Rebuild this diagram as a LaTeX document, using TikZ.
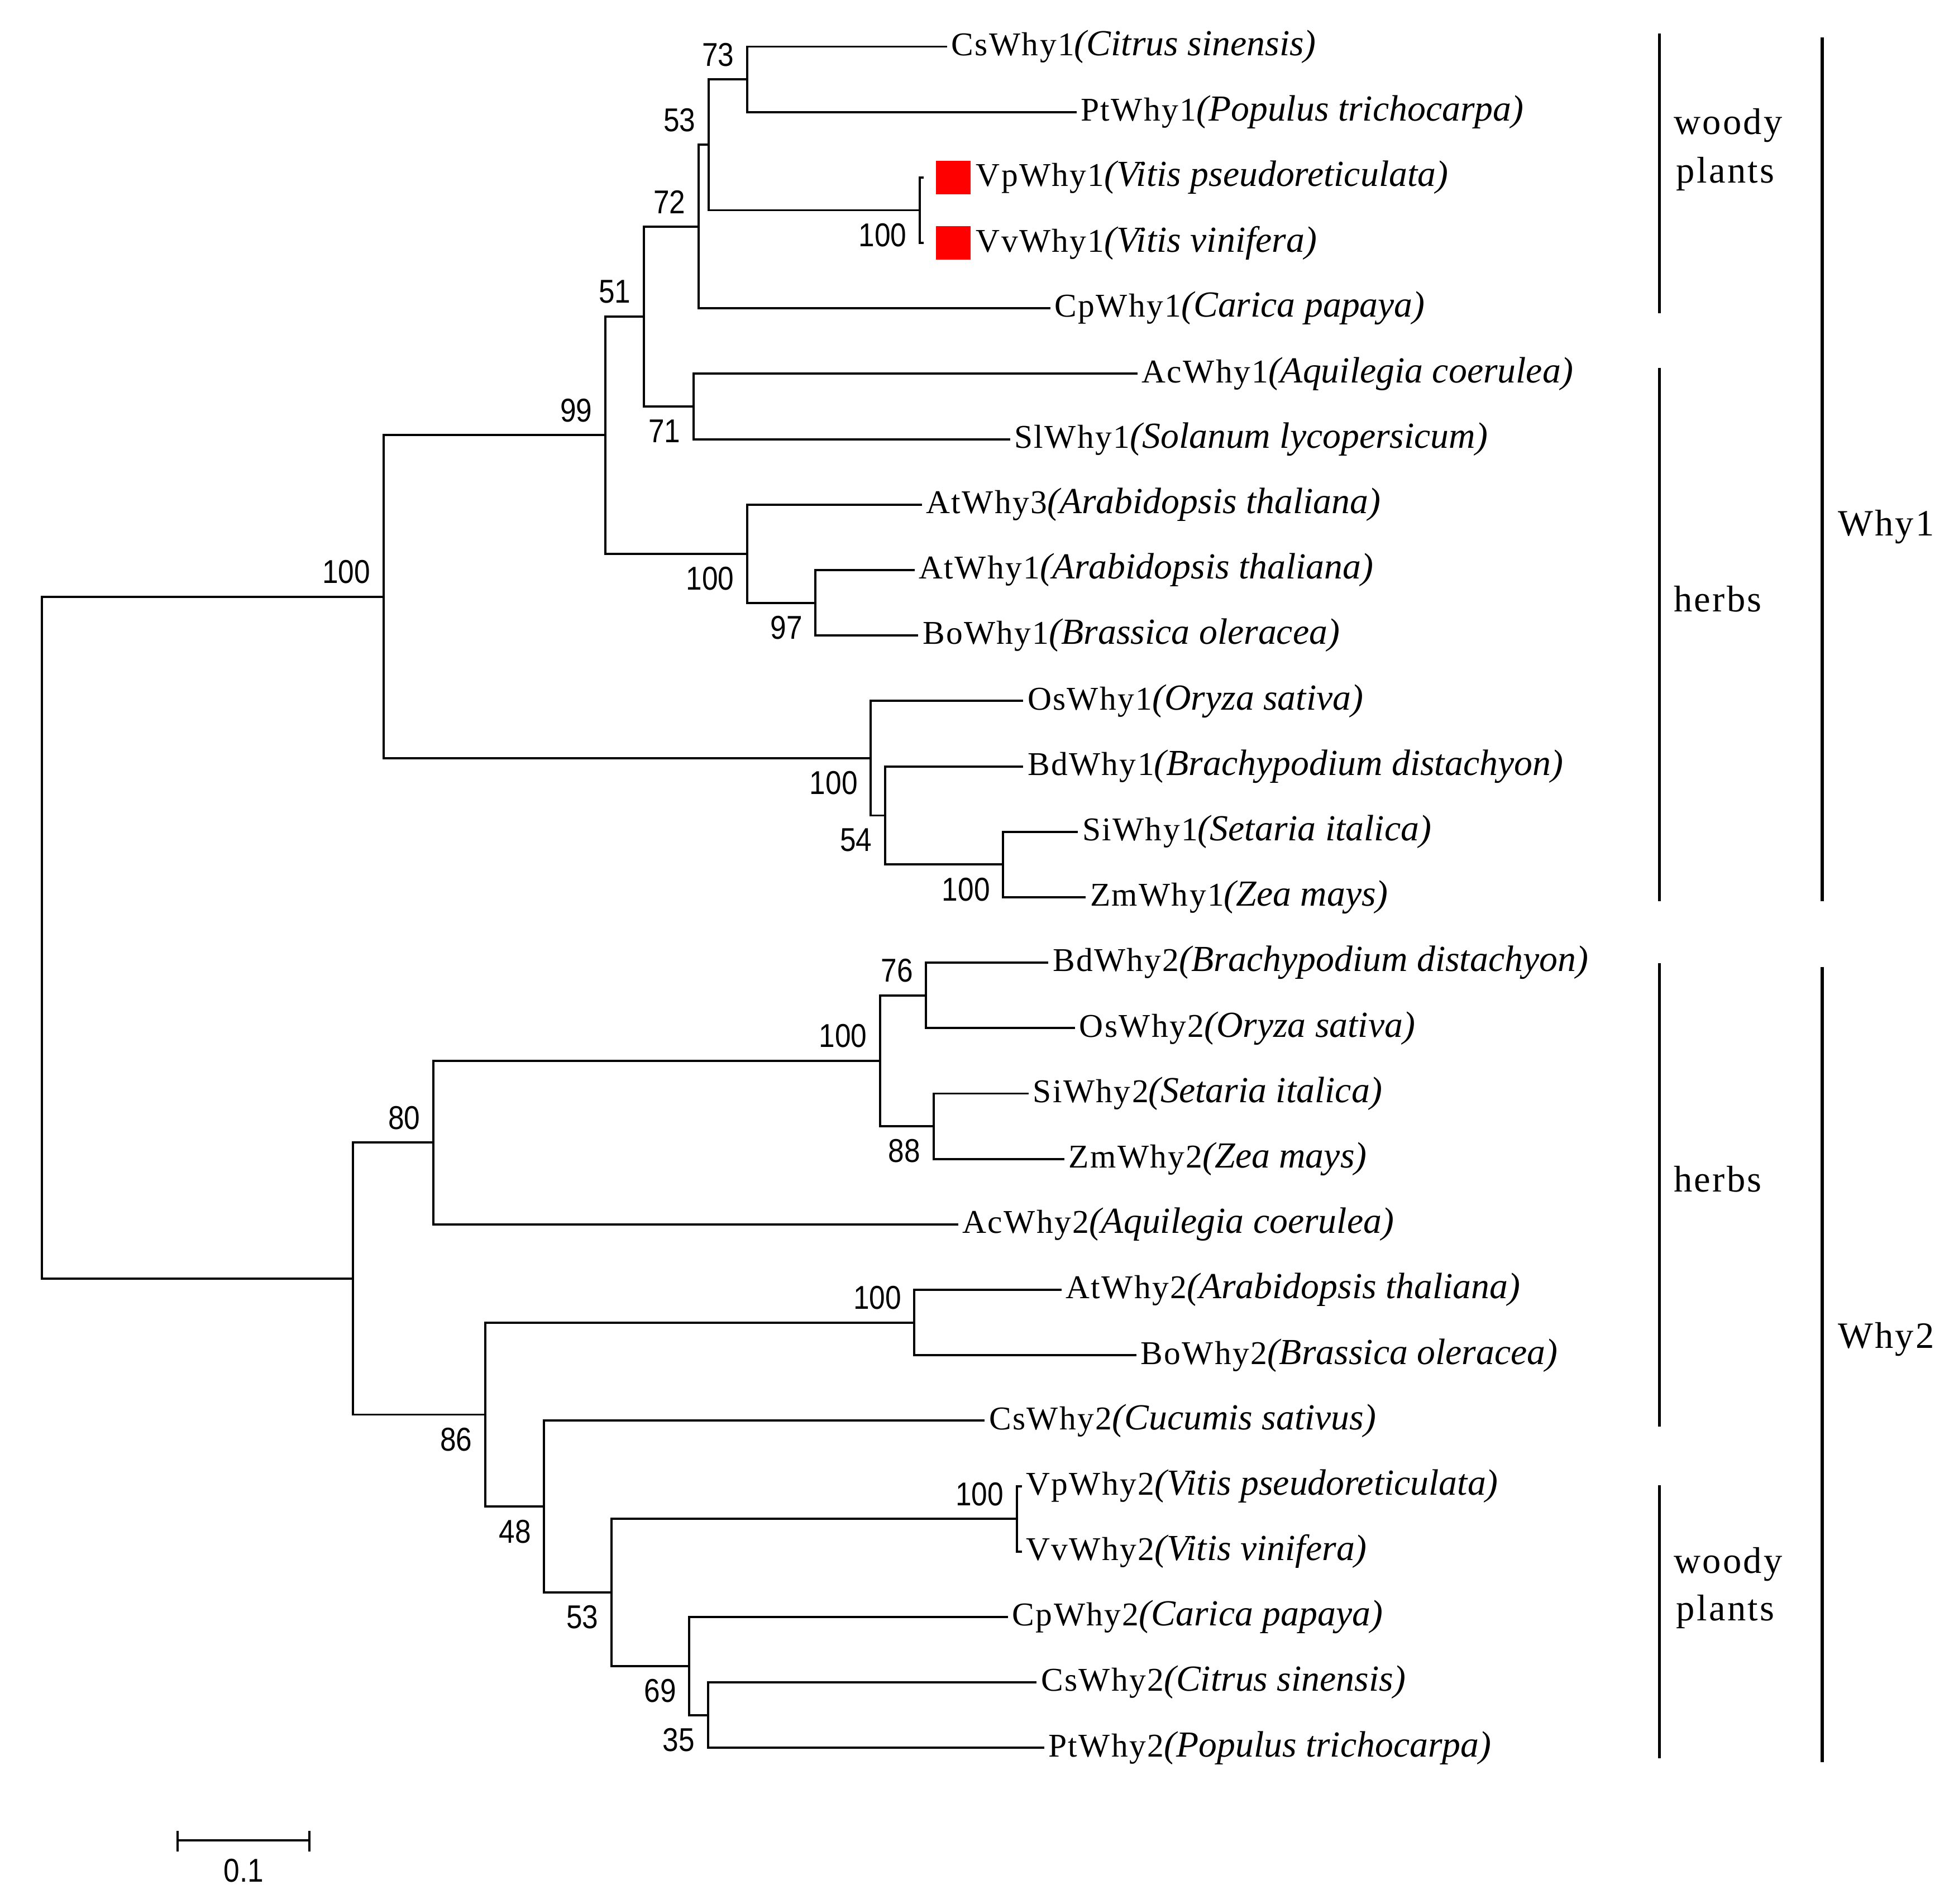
\documentclass[tikz,border=0pt]{standalone}
\usepackage{fontspec}
\usetikzlibrary{positioning}
\setmainfont{Liberation Serif}
\newfontfamily\genefont[LetterSpace=4]{Liberation Serif}
\newfontfamily\bsfont[FakeStretch=0.87]{Liberation Sans}
\newfontfamily\grpfont[LetterSpace=5]{Liberation Serif}
\newcommand{\gn}[1]{{\genefont\fontsize{7.6}{8}\selectfont #1}}
\newcommand{\species}[1]{{\fontsize{8.4}{10}\selectfont\itshape(#1)}}

\begin{document}
\begin{tikzpicture}[x=0.01cm,y=-0.01cm]
      \tikzstyle{branch}=[line width=0.5pt]
      \tikzstyle{leaf}=[anchor=west,inner sep=0.8pt]
      \tikzstyle{bsa}=[anchor=south east,inner sep=2.8pt,font=\bsfont\fontsize{7.55}{9}\selectfont]
      \tikzstyle{bsb}=[anchor=north east,inner sep=2.8pt,font=\bsfont\fontsize{7.55}{9}\selectfont]
      \tikzstyle{grp}=[anchor=base west,inner sep=0pt,font=\grpfont\fontsize{8.5}{10}\selectfont]
      \tikzstyle{bar}=[line width=0.7pt]
      \tikzstyle{redbox}=[fill=red,inner sep=0pt,minimum width=0.28cm,minimum height=0.27cm]
      \useasboundingbox (0,0) rectangle (1568,1532);
      % leaf tips
      \foreach \x [count=\i from 0] in {762,866,743,743,845,915,812.6,741.6,735.8,738.7,
          823.2,823.2,867.2,873.5,843.4,864.9,827.6,856.3,770.8,853.9,914.1,792.3,
          822,822,811,834,840}
        {\coordinate (t\i) at (\x,{37.5+52.65*\i});}
      % inner nodes
      \coordinate (n73) at (601,63.85);
      \coordinate (nVp1) at (740,169.15);
      \coordinate (n53) at (570,116.5);
      \coordinate (n72) at (562,182.3);
      \coordinate (n71) at (558,327.1);
      \coordinate (n51) at (518,254.7);
      \coordinate (n97) at (656,485.05);
      \coordinate (nAt) at (601,445.6);
      \coordinate (n99) at (487,350.15);
      \coordinate (nSZ1) at (807,695.6);
      \coordinate (n54) at (712,656.15);
      \coordinate (nG1) at (700.5,610.1);
      \coordinate (nTop) at (308.5,480.1);
      \coordinate (n76) at (745,800.95);
      \coordinate (n88) at (751,906.2);
      \coordinate (nG2) at (708,853.6);
      \coordinate (n80) at (348.5,919.4);
      \coordinate (nAB2) at (735.6,1064.2);
      \coordinate (nVp2) at (818,1222.15);
      \coordinate (n35) at (569.5,1380.1);
      \coordinate (n69) at (554.6,1340.6);
      \coordinate (n53b) at (492,1281.4);
      \coordinate (n48) at (437.7,1212.3);
      \coordinate (n86) at (390.4,1138.25);
      \coordinate (nW2) at (284,1028.8);
      \coordinate (root) at (33.5,754.45);
      \foreach \p/\c in {n73/t0,n73/t1,nVp1/t2,nVp1/t3,n53/n73,n53/nVp1,n72/n53,n72/t4,
          n71/t5,n71/t6,n51/n72,n51/n71,n97/t8,n97/t9,nAt/t7,nAt/n97,n99/n51,n99/nAt,
          nSZ1/t12,nSZ1/t13,n54/t11,n54/nSZ1,nG1/t10,nG1/n54,nTop/n99,nTop/nG1,
          n76/t14,n76/t15,n88/t16,n88/t17,nG2/n76,nG2/n88,n80/nG2,n80/t18,
          nAB2/t19,nAB2/t20,nVp2/t22,nVp2/t23,n35/t25,n35/t26,n69/t24,n69/n35,
          n53b/nVp2,n53b/n69,n48/t21,n48/n53b,n86/nAB2,n86/n48,nW2/n80,nW2/n86,
          root/nTop,root/nW2}
        {\draw[branch] (\p) |- (\c);}
      % bootstrap values
      \foreach \n/\v in {n73/73,n53/53,n72/72,n51/51,n99/99,nTop/100,n76/76,nG2/100,
          n80/80,nAB2/100,nVp2/100}
        {\node[bsa] (b\n) at (\n) {\v};}
      \foreach \n/\v in {nVp1/100,n71/71,nAt/100,n97/97,nG1/100,n54/54,nSZ1/100,n88/88,
          n86/86,n48/48,n53b/53,n69/69,n35/35}
        {\node[bsb] (b\n) at (\n) {\v};}
      % taxa
      \foreach \i/\txt in {0/{\gn{CsWhy1}\species{Citrus sinensis}},
          1/{\gn{PtWhy1}\species{Populus trichocarpa}},
          4/{\gn{CpWhy1}\species{Carica papaya}},
          5/{\gn{AcWhy1}\species{Aquilegia coerulea}},
          6/{\gn{SlWhy1}\species{Solanum lycopersicum}},
          7/{\gn{AtWhy3}\species{Arabidopsis thaliana}},
          8/{\gn{AtWhy1}\species{Arabidopsis thaliana}},
          9/{\gn{BoWhy1}\species{Brassica oleracea}},
          10/{\gn{OsWhy1}\species{Oryza sativa}},
          11/{\gn{BdWhy1}\species{Brachypodium distachyon}},
          12/{\gn{SiWhy1}\species{Setaria italica}},
          13/{\gn{ZmWhy1}\species{Zea mays}},
          14/{\gn{BdWhy2}\species{Brachypodium distachyon}},
          15/{\gn{OsWhy2}\species{Oryza sativa}},
          16/{\gn{SiWhy2}\species{Setaria italica}},
          17/{\gn{ZmWhy2}\species{Zea mays}},
          18/{\gn{AcWhy2}\species{Aquilegia coerulea}},
          19/{\gn{AtWhy2}\species{Arabidopsis thaliana}},
          20/{\gn{BoWhy2}\species{Brassica oleracea}},
          21/{\gn{CsWhy2}\species{Cucumis sativus}},
          22/{\gn{VpWhy2}\species{Vitis pseudoreticulata}},
          23/{\gn{VvWhy2}\species{Vitis vinifera}},
          24/{\gn{CpWhy2}\species{Carica papaya}},
          25/{\gn{CsWhy2}\species{Citrus sinensis}},
          26/{\gn{PtWhy2}\species{Populus trichocarpa}}}
        {\node[leaf] (l\i) at (t\i) {\txt};}
      \node[redbox] (sq2) at ([xshift=0.24cm]t2) {};
      \node[redbox] (sq3) at ([xshift=0.24cm]t3) {};
      \node[leaf,right=0pt of sq2] (l2) {\gn{VpWhy1}\species{Vitis pseudoreticulata}};
      \node[leaf,right=0pt of sq3] (l3) {\gn{VvWhy1}\species{Vitis vinifera}};
      % scale bar
      \coordinate (sb0) at (143,1481);
      \coordinate (sb1) at (249,1481);
      \draw[branch] (sb0) -- (sb1);
      \draw[branch] (sb0) ++(0,-8) -- ++(0,17);
      \draw[branch] (sb1) ++(0,-8) -- ++(0,17);
      \node[bsb,anchor=north,inner sep=0pt] (sbl) at (196,1495) {0.1};
      % groups
      \draw[bar] (1335,27) -- (1335,252);
      \draw[bar] (1335,296) -- (1335,725);
      \draw[bar] (1335,775) -- (1335,1148);
      \draw[bar] (1335,1195) -- (1335,1415);
      \draw[bar] (1466,30) -- (1466,725);
      \draw[bar] (1466,778) -- (1466,1418);
      \node[grp] (g1) at (1346,108) {woody};
      \node[grp] (g1b) at (1348,147) {plants};
      \node[grp] (g2) at (1346,492) {herbs};
      \node[grp] (g3) at (1346,959) {herbs};
      \node[grp] (g4) at (1346,1266) {woody};
      \node[grp] (g4b) at (1348,1304) {plants};
      \node[grp] (w1) at (1478,431) {Why1};
      \node[grp] (w2) at (1478,1085) {Why2};
\end{tikzpicture}
\end{document}
